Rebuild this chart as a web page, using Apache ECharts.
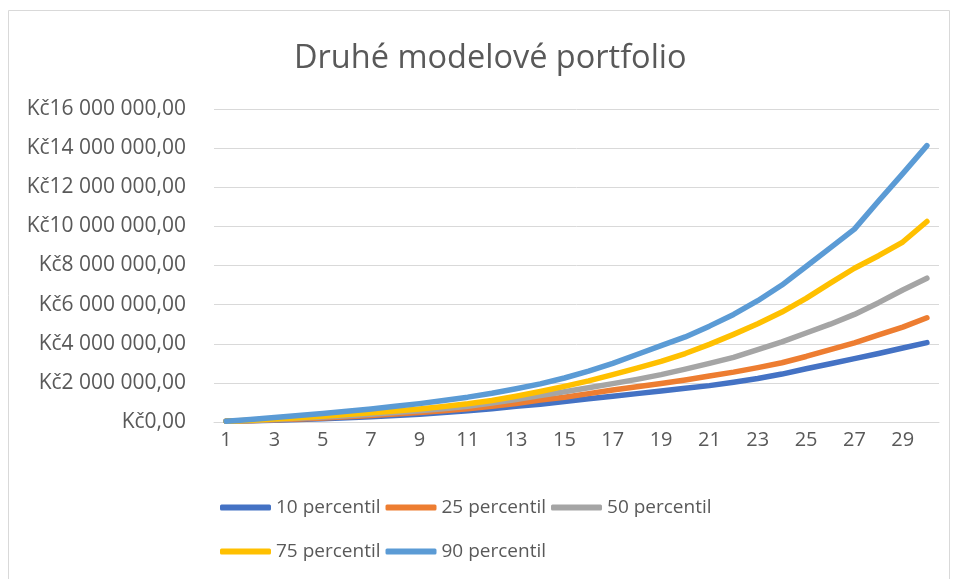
<!DOCTYPE html>
<html>
<head>
<meta charset="utf-8">
<script src="https://cdn.jsdelivr.net/npm/echarts@6/dist/echarts.min.js"></script>
<style>
  html, body { margin: 0; padding: 0; background: #fff; }
  #chart { width: 957px; height: 579px; }
</style>
</head>
<body>
<div id="chart"></div>
<script>
// roky 1..30
const years = Array.from({ length: 30 }, (_, i) => String(i + 1));

// hodnoty v milionech Kč
const p10 = [0.04, 0.06, 0.09, 0.13, 0.17, 0.22, 0.27, 0.33, 0.40, 0.48,
             0.57, 0.68, 0.80, 0.91, 1.05, 1.19, 1.32, 1.45, 1.58, 1.72,
             1.86, 2.03, 2.22, 2.45, 2.72, 2.98, 3.24, 3.50, 3.78, 4.06];
const p25 = [0.04, 0.07, 0.11, 0.15, 0.21, 0.27, 0.33, 0.41, 0.49, 0.58,
             0.68, 0.80, 0.95, 1.12, 1.27, 1.45, 1.64, 1.80, 1.97, 2.15,
             2.35, 2.55, 2.78, 3.03, 3.35, 3.70, 4.05, 4.45, 4.85, 5.33];
const p50 = [0.04, 0.08, 0.13, 0.19, 0.25, 0.32, 0.40, 0.48, 0.57, 0.68,
             0.80, 0.97, 1.15, 1.35, 1.55, 1.75, 1.96, 2.18, 2.42, 2.70,
             3.00, 3.30, 3.70, 4.10, 4.55, 5.00, 5.50, 6.10, 6.75, 7.35];
const p75 = [0.04, 0.09, 0.15, 0.22, 0.30, 0.38, 0.47, 0.56, 0.67, 0.79,
             0.93, 1.10, 1.32, 1.56, 1.82, 2.10, 2.42, 2.75, 3.10, 3.50,
             3.97, 4.48, 5.02, 5.62, 6.32, 7.10, 7.86, 8.50, 9.20, 10.25];
const p90 = [0.04, 0.13, 0.23, 0.33, 0.44, 0.55, 0.67, 0.80, 0.94, 1.10,
             1.27, 1.47, 1.70, 1.95, 2.25, 2.60, 3.00, 3.45, 3.90, 4.35,
             4.90, 5.50, 6.20, 7.00, 7.95, 8.90, 9.86, 11.30, 12.70, 14.13];

const seriesNames = ['10 percentil', '25 percentil', '50 percentil', '75 percentil', '90 percentil'];
const seriesData = [p10, p25, p50, p75, p90];
const colors = ['#4472C4', '#ED7D31', '#A5A5A5', '#FFC000', '#5B9BD5'];

const FONT = 'Open Sans';
const TEXT = '#595959';

function formatKc(v) {
    const s = String(Math.round(v)).replace(/\B(?=(\d{3})+(?!\d))/g, ' ');
    return 'Kč' + s + ',00';
}

const chart = echarts.init(document.getElementById('chart'));

const legendBase = {
    icon: 'roundRect',
    itemWidth: 51,
    itemHeight: 6,
    itemGap: 5,
    left: 215,
    textStyle: { color: TEXT, fontFamily: FONT, fontSize: 19 }
};

chart.setOption({
    animation: false,
    color: colors,
    graphic: [{
        type: 'rect',
        shape: { x: 8.5, y: 10.5, width: 941, height: 600 },
        style: { fill: 'none', stroke: '#d9d9d9', lineWidth: 1 },
        silent: true
    }],
    title: {
        text: 'Druhé modelové portfolio',
        left: 289,
        top: 37,
        textStyle: { color: TEXT, fontFamily: FONT, fontSize: 32.5, fontWeight: 'normal' }
    },
    legend: [
        Object.assign({}, legendBase, { top: 493, data: seriesNames.slice(0, 3) }),
        Object.assign({}, legendBase, { top: 537, data: seriesNames.slice(3) })
    ],
    grid: { left: 214, right: 18, top: 109, bottom: 157, containLabel: false },
    xAxis: {
        type: 'category',
        data: years,
        boundaryGap: true,
        axisLine: { lineStyle: { color: '#d9d9d9', width: 1 } },
        axisTick: { show: false },
        axisLabel: { interval: 1, color: TEXT, fontFamily: FONT, fontSize: 20, margin: 8 }
    },
    yAxis: {
        type: 'value',
        min: 0,
        max: 16000000,
        interval: 2000000,
        axisLine: { show: false },
        axisTick: { show: false },
        splitLine: { lineStyle: { color: '#d9d9d9', width: 1 } },
        axisLabel: { color: TEXT, fontFamily: FONT, fontSize: 21, margin: 28, formatter: formatKc }
    },
    series: seriesNames.map((name, i) => ({
        name: name,
        type: 'line',
        data: seriesData[i].map(v => v * 1000000),
        showSymbol: false,
        smooth: false,
        lineStyle: { width: 5.5, color: colors[i], cap: 'round', join: 'round' },
        itemStyle: { color: colors[i] }
    }))
});
</script>
</body>
</html>
